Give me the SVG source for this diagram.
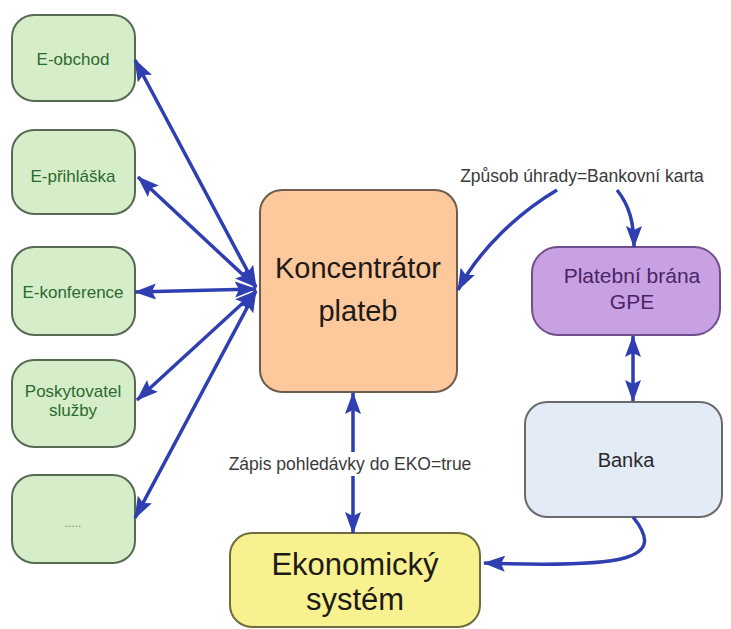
<svg xmlns="http://www.w3.org/2000/svg" width="731" height="629" viewBox="0 0 731 629">
<defs>
<style>
.g rect{fill:#d6edca;stroke:#566b52;stroke-width:2}
.g text{fill:#2c6a2e;font-family:"Liberation Sans",Arial,sans-serif;font-size:17px;text-anchor:middle}
.lbl{fill:#3a3a3a;font-family:"Liberation Sans",Arial,sans-serif;font-size:17.5px;text-anchor:middle}
.big{fill:#1e1a18;font-family:"Liberation Sans",Arial,sans-serif;text-anchor:middle}
.c{fill:none;stroke:#2f3fb2;stroke-width:3.5}
</style>
<marker id="ah" viewBox="0 0 22 16" refX="21" refY="8" markerWidth="22" markerHeight="16" markerUnits="userSpaceOnUse" orient="auto-start-reverse">
<path d="M0,0 L22,8 L0,16 L4,8 Z" fill="#2f3fb2"/>
</marker>
</defs>
<rect width="731" height="629" fill="#ffffff"/>

<g id="e-obchod" class="g"><rect x="12" y="15" width="123" height="86" rx="22"/><text x="73" y="65">E-obchod</text></g>
<g id="e-prihlaska" class="g"><rect x="12" y="130" width="123" height="84" rx="22"/><text x="73" y="182">E-přihláška</text></g>
<g id="e-konference" class="g"><rect x="12" y="247" width="123" height="88" rx="22"/><text x="73" y="298">E-konference</text></g>
<g id="poskytovatel" class="g"><rect x="12" y="360" width="123" height="87" rx="22"/><text x="73" y="397">Poskytovatel</text><text x="73" y="416">služby</text></g>
<g id="dalsi" class="g"><rect x="12" y="475" width="123" height="88" rx="22"/><text x="73" y="527" style="font-size:12px;fill:#6a8f6a">.....</text></g>

<g id="koncentrator"><rect x="260" y="190" width="197" height="202" rx="22" fill="#fdc89b" stroke="#6d5d4c" stroke-width="2"/><text class="big" x="358" y="278" font-size="29">Koncentrátor</text><text class="big" x="358" y="321" font-size="29">plateb</text></g>
<g id="brana"><rect x="532" y="247" width="188" height="88" rx="26" fill="#c8a1e2" stroke="#6e4f8c" stroke-width="2"/><text x="632" y="283" font-family="Liberation Sans,Arial,sans-serif" font-size="21" fill="#4a2466" text-anchor="middle">Platební brána</text><text x="632" y="309" font-family="Liberation Sans,Arial,sans-serif" font-size="21" fill="#4a2466" text-anchor="middle">GPE</text></g>
<g id="banka"><rect x="525" y="402" width="197" height="115" rx="22" fill="#e3ebf6" stroke="#6a6a6a" stroke-width="2"/><text x="626" y="467" font-family="Liberation Sans,Arial,sans-serif" font-size="20" fill="#2a2a2a" text-anchor="middle">Banka</text></g>
<g id="ekonomicky"><rect x="230" y="533" width="250" height="94" rx="22" fill="#f8f18f" stroke="#6e6c3e" stroke-width="2"/><text class="big" x="355" y="575" font-size="31">Ekonomický</text><text class="big" x="355" y="610" font-size="31">systém</text></g>

<g id="connectors">
<path class="c" d="M256,287 L135,60" marker-start="url(#ah)" marker-end="url(#ah)"/>
<path class="c" d="M256,287 L138,177" marker-start="url(#ah)" marker-end="url(#ah)"/>
<path class="c" d="M256,289 L135,292" marker-start="url(#ah)" marker-end="url(#ah)"/>
<path class="c" d="M256,291 L137,400" marker-start="url(#ah)" marker-end="url(#ah)"/>
<path class="c" d="M256,291 L135,518" marker-start="url(#ah)" marker-end="url(#ah)"/>
<path class="c" d="M557,190 C520,212 480,248 458,290" marker-end="url(#ah)"/>
<path class="c" d="M617,190 C629,205 634,222 634,247" marker-end="url(#ah)"/>
<path class="c" d="M633,336 L633,401" marker-start="url(#ah)" marker-end="url(#ah)"/>
<path class="c" d="M353,393 L353,533" marker-start="url(#ah)" marker-end="url(#ah)"/>
<path class="c" d="M633,517 C668,560 625,568 484,563" marker-end="url(#ah)"/>
</g>

<rect x="224" y="452" width="254" height="24" fill="#ffffff"/>
<text class="lbl" x="350" y="470">Zápis pohledávky do EKO=true</text>
<text class="lbl" x="582" y="182">Způsob úhrady=Bankovní karta</text>
</svg>
